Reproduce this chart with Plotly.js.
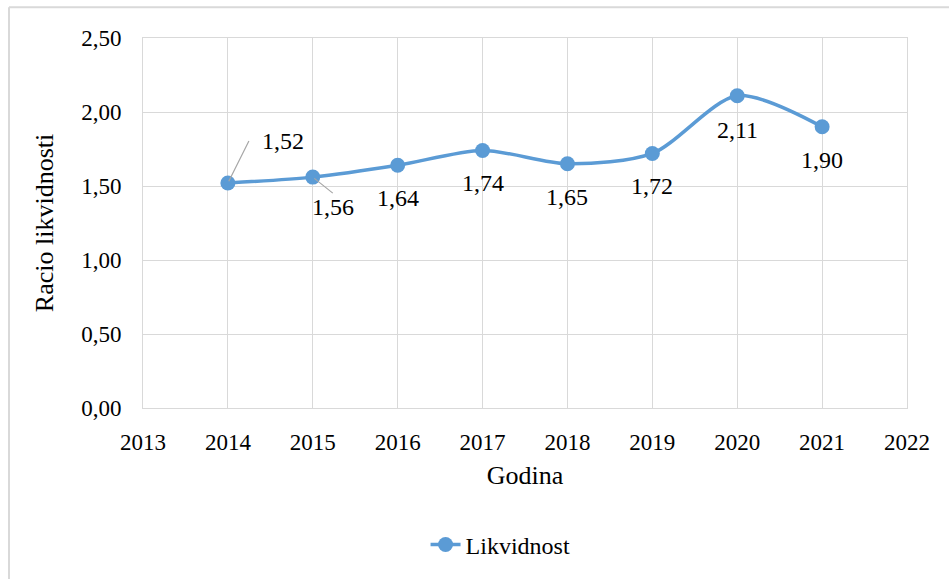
<!DOCTYPE html>
<html>
<head>
<meta charset="utf-8">
<script src="https://cdn.plot.ly/plotly-3.0.1.min.js"></script>
<style>html,body{margin:0;padding:0;background:#fff;}#chart{width:949px;height:579px;}</style>
</head>
<body>
<div id="chart"></div>
<script>
const years = [2014, 2015, 2016, 2017, 2018, 2019, 2020, 2021];
const likvidnost = [1.52, 1.56, 1.64, 1.74, 1.65, 1.72, 2.11, 1.90];
const labels = ['1,52', '1,56', '1,64', '1,74', '1,65', '1,72', '2,11', '1,90'];
const seriesName = 'Likvidnost';
const xTitle = 'Godina';
const yTitle = 'Racio likvidnosti';

const FONT = 'Liberation Serif';
const BLUE = '#5B9BD5';
const GRID = '#d9d9d9';
const LEADER = '#a6a6a6';

// label placement in pixels (position styling only)
const offs = [
  {ax: 21, ay: -42, arrow: true, xanchor: 'left', yanchor: 'middle', pre: '\u2002'},
  {ax: 20, ay: 16, arrow: true, xanchor: 'center', yanchor: 'top', pre: ''},
  {ay: 33}, {ay: 33}, {ay: 33}, {ay: 33}, {ay: 34}, {ay: 33}
];

const annotations = years.map((yr, i) => {
  const o = offs[i];
  const font = {family: FONT, size: 24, color: '#000'};
  if (o.arrow) {
    return {x: yr, y: likvidnost[i], xref: 'x', yref: 'y', text: o.pre + labels[i],
      showarrow: true, arrowhead: 0, arrowwidth: 1.2, arrowcolor: LEADER,
      ax: o.ax, ay: o.ay, xanchor: o.xanchor, yanchor: o.yanchor,
      standoff: 2, borderpad: 0, font: font};
  }
  return {x: yr, y: likvidnost[i], xref: 'x', yref: 'y', text: labels[i],
    showarrow: false, yshift: -o.ay, font: font};
});

const trace = {
  x: years, y: likvidnost, name: seriesName, type: 'scatter', mode: 'lines+markers',
  line: {color: BLUE, width: 3.5, shape: 'spline', smoothing: 0.8},
  marker: {color: BLUE, size: 15},
  hoverinfo: 'x+y'
};

const layout = {
  width: 949, height: 579,
  margin: {l: 143, r: 42, t: 38, b: 169},
  paper_bgcolor: '#fff', plot_bgcolor: '#fff',
  separators: ', ',
  font: {family: FONT, size: 23, color: '#000'},
  xaxis: {
    range: [2013, 2022], dtick: 1, tick0: 2013, showgrid: true, gridcolor: GRID, gridwidth: 1,
    zeroline: false, showline: true, linecolor: GRID, linewidth: 1, mirror: true,
    ticks: '', ticklabelstandoff: 13, tickfont: {family: FONT, size: 23, color: '#000'},
    title: {text: xTitle, font: {family: FONT, size: 26, color: '#000'}, standoff: 12}
  },
  yaxis: {
    range: [0, 2.5], dtick: 0.5, tickformat: '.2f', showgrid: true, gridcolor: GRID, gridwidth: 1,
    zeroline: false, showline: true, linecolor: GRID, linewidth: 1, mirror: true,
    ticks: '', ticklabelstandoff: 16, tickfont: {family: FONT, size: 23, color: '#000'},
    title: {text: yTitle, font: {family: FONT, size: 26, color: '#000'}, standoff: 20}
  },
  showlegend: true,
  legend: {orientation: 'h', x: 0.468, xanchor: 'center', y: -0.37, yanchor: 'middle',
    font: {family: FONT, size: 24, color: '#000'}, bgcolor: 'rgba(0,0,0,0)'},
  annotations: annotations,
  shapes: [
    {type: 'line', xref: 'paper', yref: 'paper', x0: -0.1754, x1: -0.1754, y0: 1.0833, y1: -0.5, line: {color: GRID, width: 2}},
    {type: 'line', xref: 'paper', yref: 'paper', x0: -0.1754, x1: 1.1, y0: 1.0833, y1: 1.0833, line: {color: GRID, width: 2}}
  ]
};

Plotly.newPlot('chart', [trace], layout, {displayModeBar: false, staticPlot: true});
</script>
</body>
</html>
